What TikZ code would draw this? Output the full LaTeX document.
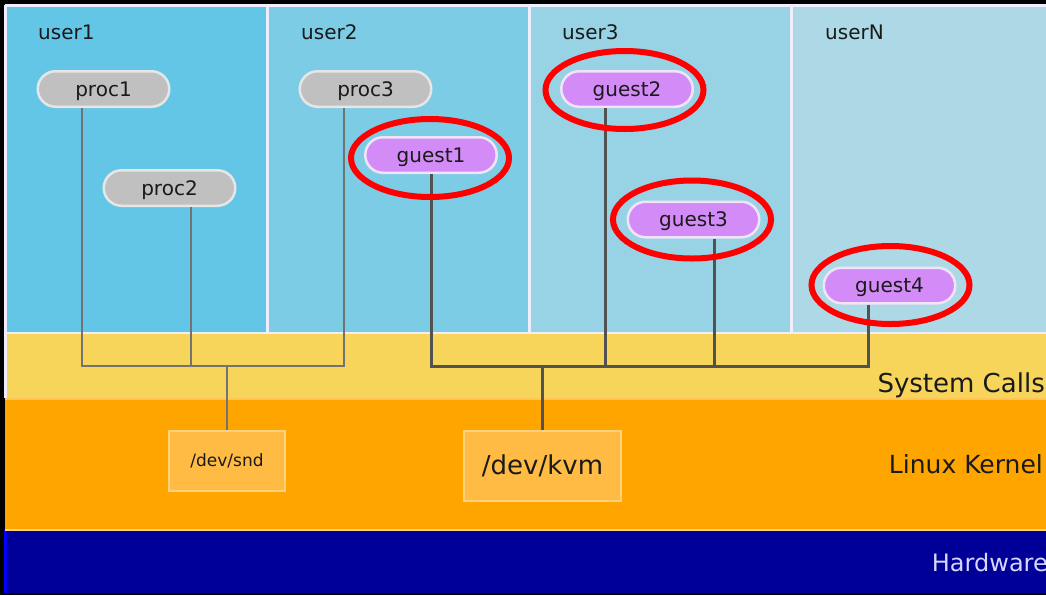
\documentclass[tikz,border=0pt]{standalone}
\usepackage{fontspec}
\setmainfont{DejaVu Sans}
\usetikzlibrary{calc}

\definecolor{userA}{HTML}{64C6E6}
\definecolor{userB}{HTML}{7CCCE6}
\definecolor{userC}{HTML}{98D2E5}
\definecolor{userD}{HTML}{ADD8E6}
\definecolor{sysband}{HTML}{F7D45A}
\definecolor{kernband}{HTML}{FFA500}
\definecolor{hwband}{HTML}{000099}
\definecolor{devfill}{HTML}{FFBB44}
\definecolor{devedge}{HTML}{FFD280}
\definecolor{procfill}{HTML}{C0C0C0}
\definecolor{procedge}{HTML}{E6E6E6}
\definecolor{guestfill}{HTML}{D38BF8}
\definecolor{guestedge}{HTML}{F2E4F8}
\definecolor{sepline}{HTML}{EEEEFF}
\definecolor{inktext}{HTML}{1A1A1A}

\tikzset{
  pill/.style={rounded corners=17.75pt, minimum width=131.5pt, minimum height=35.5pt,
    line width=2.5pt, inner sep=0pt, text=inktext,
    font=\fontsize{20}{24}\selectfont, text height=16pt, text depth=2pt},
  procnode/.style={pill, fill=procfill, draw=procedge},
  guestnode/.style={pill, fill=guestfill, draw=guestedge},
  devbox/.style={rectangle, fill=devfill, draw=devedge, line width=2pt, inner sep=0pt, text=inktext},
  userlabel/.style={anchor=west, inner sep=0pt, text=inktext, font=\fontsize{20}{24}\selectfont},
  bandlabel/.style={anchor=base east, inner sep=0pt, font=\fontsize{26}{30}\selectfont},
  procline/.style={draw=gray!90!black, line width=2pt},
  guestline/.style={draw=black!68, line width=3pt},
  ring/.style={draw=red, line width=6pt}
}

\begin{document}
\begin{tikzpicture}[x=1pt, y=-1pt]
\useasboundingbox (0,0) rectangle (1046,595);
\fill[black] (0,0) rectangle (1046,595);

% layer bands
\fill[hwband] (5,530) rectangle (1046,593);
\fill[kernband] (5,398) rectangle (1046,530);
\fill[sysband] (5,333) rectangle (1046,398);
\draw[blue, line width=3pt] (5.5,530) -- (5.5,593);
\draw[devedge!70!kernband, line width=2pt] (5,398.5) -- (1046,398.5);
\draw[devedge, line width=2pt] (5,529.5) -- (1046,529.5);

% user columns
\fill[userA] (5,5) rectangle (268,333);
\fill[userB] (268,5) rectangle (530,333);
\fill[userC] (530,5) rectangle (792,333);
\fill[userD] (792,5) rectangle (1046,333);
\draw[sepline, line width=2.5pt] (5,5.5) -- (1046,5.5);
\draw[sepline, line width=2.5pt] (5.5,5) -- (5.5,398);
\draw[sepline, line width=2pt] (5,333) -- (1046,333);
\foreach \xs in {267.5,529.5,791.5}
  \draw[sepline, line width=2.5pt] (\xs,5) -- (\xs,333);

\node[userlabel] (lu1) at (38,32) {user1};
\node[userlabel] (lu2) at (301,32) {user2};
\node[userlabel] (lu3) at (562,32) {user3};
\node[userlabel] (luN) at (825,32) {userN};

% layer names
\node[bandlabel, text=inktext] (lsys) at (1045,392) {System Calls};
\node[bandlabel, text=inktext, font=\fontsize{25}{30}\selectfont] (lker) at (1043,473) {Linux Kernel};
\node[bandlabel, text=sepline!90!blue, font=\fontsize{24}{28}\selectfont] (lhw) at (1048,571) {Hardware};

% processes and guests
\node[procnode] (proc1) at (103.5,89) {proc1};
\node[procnode] (proc2) at (169.5,188) {proc2};
\node[procnode] (proc3) at (365.5,89) {proc3};
\node[guestnode] (guest1) at (431,155) {guest1};
\node[guestnode] (guest2) at (627,89) {guest2};
\node[guestnode] (guest3) at (693.5,219.5) {guest3};
\node[guestnode] (guest4) at (889.5,285.5) {guest4};

% device nodes
\node[devbox, minimum width=116pt, minimum height=60pt, font=\fontsize{17}{20}\selectfont] (snd) at (227,461) {/dev/snd};
\node[devbox, minimum width=157pt, minimum height=70pt, font=\fontsize{26}{30}\selectfont] (kvm) at (542.5,466) {/dev/kvm};

% buses
\coordinate (sndbus) at (227,366);
\coordinate (kvmbus) at (542.5,366);

\draw[procline] ([xshift=-21.5pt]proc1.south) |- (sndbus) -- (snd.north);
\draw[procline] ([xshift=21.5pt]proc2.south) |- (sndbus);
\draw[procline] ([xshift=-21.5pt]proc3.south) |- (sndbus);

\draw[guestline] (guest1.south) |- (kvmbus) -- (kvm.north);
\draw[guestline] ([xshift=-22pt]guest2.south) |- (kvmbus);
\draw[guestline] ([xshift=21pt]guest3.south) |- (kvmbus);
\draw[guestline] ([xshift=-21.5pt]guest4.south) |- (kvmbus);

% highlight rings
\draw[ring] ($(guest1.center)+(-1,3)$) ellipse [x radius=79, y radius=39];
\draw[ring] ($(guest2.center)+(-2.5,1)$) ellipse [x radius=79, y radius=39];
\draw[ring] ($(guest3.center)+(-1.5,0)$) ellipse [x radius=79, y radius=39];
\draw[ring] ($(guest4.center)+(1,-0.5)$) ellipse [x radius=79, y radius=39];
\end{tikzpicture}
\end{document}
